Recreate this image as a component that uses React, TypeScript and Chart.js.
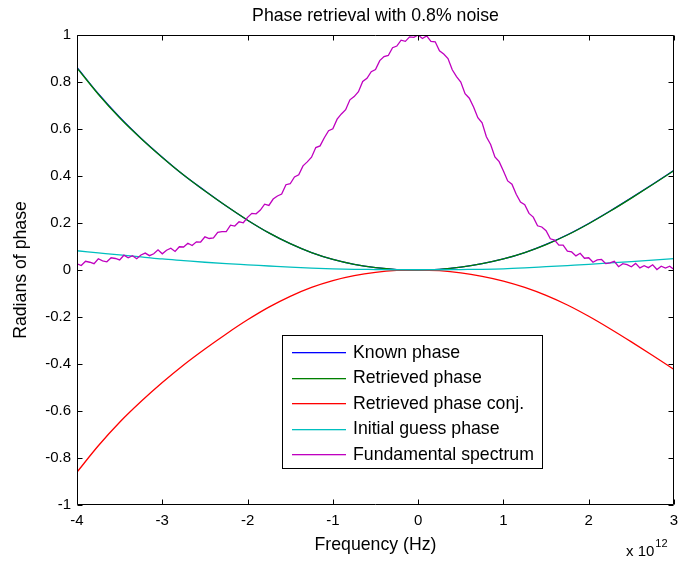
import React, { useEffect, useRef } from "react";
import { Chart, registerables } from "chart.js";

Chart.register(...registerables);

// ---- data (frequency in units of 1e12 Hz) ----
const phaseFreq = [-4, -3.75, -3.5, -3.25, -3, -2.75, -2.5, -2.25, -2, -1.75, -1.5, -1.25, -1, -0.75, -0.5, -0.25, 0, 0.25, 0.5, 0.75, 1, 1.25, 1.5, 1.75, 2, 2.25, 2.5, 2.75, 3];
const knownPhase = [0.862, 0.75, 0.65, 0.561, 0.48, 0.404, 0.337, 0.272, 0.212, 0.158, 0.112, 0.074, 0.045, 0.024, 0.01, 0.002, 0.0, 0.003, 0.012, 0.027, 0.047, 0.074, 0.109, 0.15, 0.198, 0.251, 0.307, 0.365, 0.424];
const retrievedPhase = [0.86, 0.748, 0.648, 0.56, 0.479, 0.404, 0.336, 0.272, 0.212, 0.158, 0.112, 0.074, 0.045, 0.024, 0.01, 0.002, 0.0, 0.003, 0.012, 0.027, 0.047, 0.074, 0.108, 0.149, 0.197, 0.25, 0.306, 0.364, 0.423];
const retrievedConj = [-0.86, -0.748, -0.648, -0.56, -0.479, -0.404, -0.336, -0.272, -0.212, -0.158, -0.112, -0.074, -0.045, -0.024, -0.01, -0.002, 0.0, -0.003, -0.012, -0.027, -0.047, -0.074, -0.108, -0.149, -0.197, -0.25, -0.306, -0.364, -0.423];
const initialGuess = [0.082, 0.073, 0.064, 0.056, 0.047, 0.04, 0.033, 0.027, 0.022, 0.017, 0.012, 0.008, 0.005, 0.003, 0.002, 0.001, 0.001, 0.001, 0.002, 0.003, 0.005, 0.009, 0.014, 0.019, 0.024, 0.03, 0.036, 0.042, 0.048];

const spectrumStart = -4;
const spectrumStep = 0.05;
const spectrum = [
  0.026, 0.019, 0.037, 0.033, 0.027, 0.048, 0.039, 0.035, 0.052, 0.049,
  0.043, 0.063, 0.052, 0.061, 0.048, 0.064, 0.072, 0.061, 0.069, 0.086,
  0.069, 0.084, 0.093, 0.079, 0.099, 0.098, 0.114, 0.104, 0.12, 0.119,
  0.141, 0.134, 0.137, 0.16, 0.163, 0.163, 0.191, 0.187, 0.205, 0.201,
  0.224, 0.241, 0.239, 0.255, 0.28, 0.275, 0.302, 0.315, 0.323, 0.363,
  0.367, 0.396, 0.405, 0.443, 0.46, 0.48, 0.521, 0.528, 0.563, 0.593,
  0.601, 0.642, 0.664, 0.682, 0.724, 0.738, 0.759, 0.802, 0.816, 0.844,
  0.853, 0.891, 0.908, 0.913, 0.946, 0.953, 0.978, 0.973, 0.992, 0.99,
  1.0, 0.985, 0.996, 0.973, 0.971, 0.933, 0.919, 0.9, 0.852, 0.823,
  0.8, 0.75, 0.731, 0.694, 0.648, 0.626, 0.567, 0.534, 0.481, 0.461,
  0.421, 0.379, 0.365, 0.322, 0.289, 0.278, 0.241, 0.225, 0.188, 0.183,
  0.167, 0.133, 0.127, 0.106, 0.106, 0.08, 0.077, 0.06, 0.071, 0.05,
  0.052, 0.033, 0.043, 0.045, 0.027, 0.03, 0.037, 0.014, 0.027, 0.023,
  0.014, 0.028, 0.009, 0.018, 0.01, 0.022, 0.002, 0.016, 0.008, 0.016,
  0.002,
];

const xTicks = [-4, -3, -2, -1, 0, 1, 2, 3];
const yTicks = [-1, -0.8, -0.6, -0.4, -0.2, 0, 0.2, 0.4, 0.6, 0.8, 1];

const seriesLabels = ["Known phase", "Retrieved phase", "Retrieved phase conj.", "Initial guess phase", "Fundamental spectrum"];
const seriesColors = ["rgb(0,0,255)", "rgb(0,128,0)", "rgb(255,0,0)", "rgb(0,191,191)", "rgb(191,0,191)"];

const titleText = "Phase retrieval with 0.8% noise";
const xLabelText = "Frequency (Hz)";
const yLabelText = "Radians of phase";
const exponentText = "12";

const FONT = "'Liberation Sans', Arial, Helvetica, sans-serif";
const LABEL_SIZE = 17.7;

const toPoints = (xs: number[], ys: number[]) => ys.map((y, i) => ({ x: xs[i], y }));
const spectrumFreq = spectrum.map((_, i) => spectrumStart + i * spectrumStep);

const decorPlugin = {
  id: "matlabDecor",
  afterDraw(chart: any) {
    const { ctx, chartArea, scales } = chart;
    const { left, right, top, bottom } = chartArea;
    const xs = scales.x;
    const ys = scales.y;
    ctx.save();
    // box
    ctx.strokeStyle = "#000";
    ctx.lineWidth = 1;
    const L = Math.round(left) + 0.5;
    const R = Math.round(right) - 0.5;
    const T = Math.round(top) + 0.5;
    const B = Math.round(bottom) - 0.5;
    ctx.beginPath();
    ctx.moveTo(L, T);
    ctx.lineTo(R, T);
    ctx.lineTo(R, B);
    ctx.lineTo(L, B);
    ctx.closePath();
    ctx.stroke();
    // inward ticks
    const tl = 5;
    ctx.beginPath();
    xTicks.forEach((v) => {
      const px = Math.round(xs.getPixelForValue(v)) + 0.5;
      ctx.moveTo(px, B);
      ctx.lineTo(px, B - tl);
      ctx.moveTo(px, T);
      ctx.lineTo(px, T + tl);
    });
    yTicks.forEach((v) => {
      const py = Math.round(ys.getPixelForValue(v)) + 0.5;
      ctx.moveTo(L, py);
      ctx.lineTo(L + tl, py);
      ctx.moveTo(R, py);
      ctx.lineTo(R - tl, py);
    });
    ctx.stroke();

    // title
    const cx = (left + right) / 2;
    ctx.fillStyle = "#000";
    ctx.font = `${LABEL_SIZE}px ${FONT}`;
    ctx.textAlign = "center";
    ctx.textBaseline = "alphabetic";
    ctx.fillText(titleText, cx, 21);
    // x label
    ctx.fillText(xLabelText, cx, 550);
    // y label
    ctx.save();
    ctx.translate(26, (top + bottom) / 2);
    ctx.rotate(-Math.PI / 2);
    ctx.fillText(yLabelText, 0, 0);
    ctx.restore();
    // exponent
    ctx.textAlign = "left";
    ctx.font = `15px ${FONT}`;
    const base = "x 10";
    ctx.fillText(base, 626, 556);
    const w = ctx.measureText(base).width;
    ctx.font = `11px ${FONT}`;
    ctx.fillText(exponentText, 626 + w + 1, 547);

    // legend
    const bx = 282.5, by = 335.5, bw = 260, bh = 133;
    ctx.fillStyle = "#fff";
    ctx.fillRect(bx, by, bw, bh);
    ctx.strokeStyle = "#000";
    ctx.lineWidth = 1;
    ctx.strokeRect(bx, by, bw, bh);
    ctx.font = `${LABEL_SIZE}px ${FONT}`;
    ctx.textBaseline = "middle";
    seriesLabels.forEach((label, i) => {
      const yy = 352 + i * 25.5;
      ctx.fillStyle = seriesColors[i];
      ctx.fillRect(292, Math.round(yy), 54, 1.3);
      ctx.fillStyle = "#000";
      ctx.fillText(label, 353, yy + 1);
    });
    ctx.restore();
  },
};

export default function App() {
  const ref = useRef<HTMLCanvasElement>(null);
  useEffect(() => {
    const phaseSeries = [knownPhase, retrievedPhase, retrievedConj, initialGuess];
    const datasets: any[] = phaseSeries.map((vals, i) => ({
      label: seriesLabels[i],
      data: toPoints(phaseFreq, vals),
      borderColor: seriesColors[i],
      backgroundColor: seriesColors[i],
      borderWidth: 1.3,
      pointRadius: 0,
      cubicInterpolationMode: "monotone",
      fill: false,
      order: 5 - i,
    }));
    datasets.push({
      label: seriesLabels[4],
      data: toPoints(spectrumFreq, spectrum),
      borderColor: seriesColors[4],
      backgroundColor: seriesColors[4],
      borderWidth: 1.3,
      pointRadius: 0,
      tension: 0,
      fill: false,
      order: 0,
    });
    const chart = new Chart(ref.current as HTMLCanvasElement, {
      type: "line",
      data: { datasets },
      options: {
        responsive: false,
        maintainAspectRatio: false,
        devicePixelRatio: 1,
        animation: false,
        layout: { padding: { top: 35, right: 4, left: 0, bottom: 0 } },
        plugins: {
          legend: { display: false },
          title: { display: false },
          tooltip: { enabled: false },
        },
        scales: {
          x: {
            type: "linear",
            min: -4,
            max: 3,
            afterBuildTicks: (scale: any) => {
              scale.ticks = xTicks.map((v) => ({ value: v }));
            },
            afterFit: (scale: any) => {
              scale.height = 59;
              scale.paddingLeft = 0;
              scale.paddingRight = 0;
            },
            grid: { display: false, drawTicks: false },
            border: { display: false },
            ticks: {
              autoSkip: false,
              maxRotation: 0,
              minRotation: 0,
              padding: 7,
              color: "#000",
              font: { family: FONT, size: 15 },
              callback: (v: any) => String(v),
            },
          },
          y: {
            type: "linear",
            min: -1,
            max: 1,
            afterBuildTicks: (scale: any) => {
              scale.ticks = yTicks.map((v) => ({ value: v }));
            },
            afterFit: (scale: any) => {
              scale.width = 77;
              scale.paddingTop = 0;
              scale.paddingBottom = 0;
            },
            grid: { display: false, drawTicks: false },
            border: { display: false },
            ticks: {
              autoSkip: false,
              padding: 6,
              color: "#000",
              font: { family: FONT, size: 15 },
              callback: (v: any) => String(v),
            },
          },
        },
      },
      plugins: [decorPlugin],
    } as any);
    return () => chart.destroy();
  }, []);
  return (
    <div style={{ position: "absolute", left: 0, top: 0, width: 678, height: 564, background: "#fff" }}>
      <canvas ref={ref} width={678} height={564} style={{ display: "block", width: 678, height: 564 }} />
    </div>
  );
}
